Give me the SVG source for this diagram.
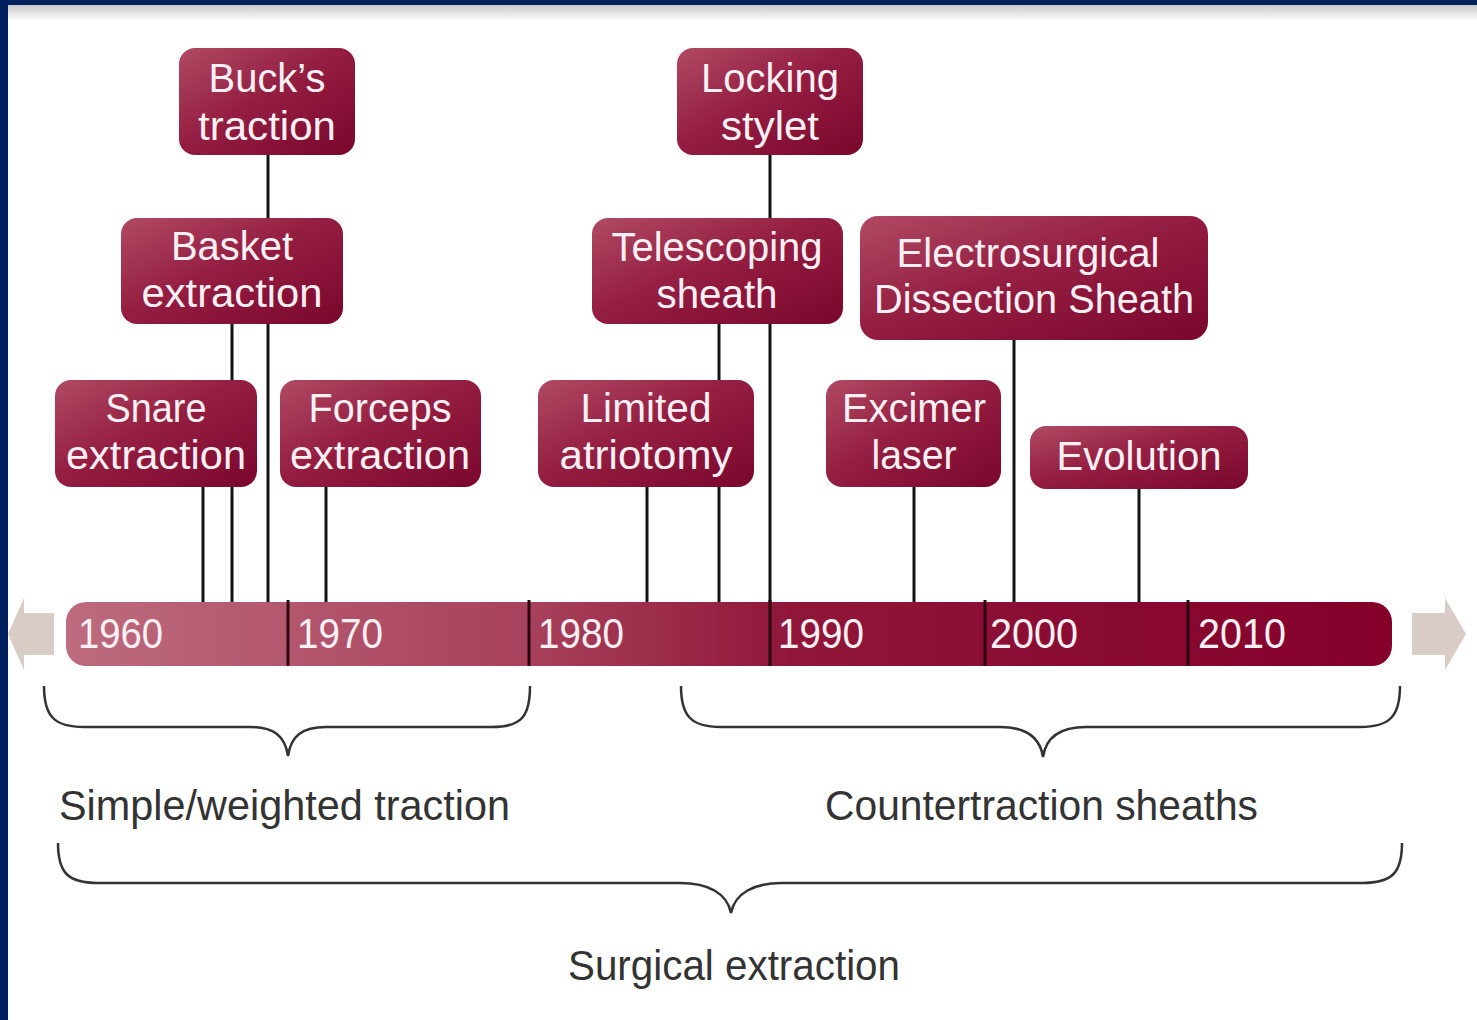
<svg xmlns="http://www.w3.org/2000/svg" width="1477" height="1020" viewBox="0 0 1477 1020">
<defs>
  <linearGradient id="nodeGrad" x1="0" y1="0" x2="1" y2="1">
    <stop offset="0" stop-color="#b04a64"/>
    <stop offset="0.45" stop-color="#951f42"/>
    <stop offset="1" stop-color="#7a062c"/>
  </linearGradient>
  <linearGradient id="barGrad" x1="0" y1="0" x2="1" y2="0">
    <stop offset="0" stop-color="#bd6b7e"/>
    <stop offset="0.35" stop-color="#a8415b"/>
    <stop offset="0.55" stop-color="#8f1639"/>
    <stop offset="1" stop-color="#84002a"/>
  </linearGradient>
  <linearGradient id="shadeGrad" x1="0" y1="0" x2="0" y2="1">
    <stop offset="0" stop-color="#c9c9c9"/>
    <stop offset="1" stop-color="#ffffff"/>
  </linearGradient>
  <style>
    .node rect { fill: url(#nodeGrad); }
    .node text { fill: #fcf0f4; font-family: "Liberation Sans", Arial, sans-serif; font-size: 40px; text-anchor: middle; }
    .year { fill: #fcf0f4; font-family: "Liberation Sans", Arial, sans-serif; font-size: 42px; }
    .conn line { stroke: #141414; stroke-width: 3; }
    .div line { stroke: #2a0010; stroke-width: 3; }
    .brace { fill: none; stroke: #333333; stroke-width: 2.5; }
    .label { fill: #333333; font-family: "Liberation Sans", Arial, sans-serif; font-size: 42px; }
    .arrow { fill: #d9ccc7; }
  </style>
</defs>

<!-- background and frame -->
<rect x="0" y="0" width="1477" height="1020" fill="#ffffff"/>
<rect x="8" y="5" width="1469" height="16" fill="url(#shadeGrad)"/>
<rect x="0" y="0" width="1477" height="5" fill="#00205e"/>
<rect x="0" y="0" width="8" height="1020" fill="#00205e"/>

<!-- timeline arrows -->
<polygon class="arrow" points="54,613 24,613 24,598 8,634 24,670 24,655 54,655"/>
<polygon class="arrow" points="1412,613 1445,613 1445,598 1466,634 1445,670 1445,655 1412,655"/>

<!-- connectors -->
<g id="connectors" class="conn">
  <line x1="268" y1="155" x2="268" y2="602"/>
  <line x1="232" y1="324" x2="232" y2="602"/>
  <line x1="203" y1="487" x2="203" y2="602"/>
  <line x1="326" y1="487" x2="326" y2="602"/>
  <line x1="770" y1="155" x2="770" y2="602"/>
  <line x1="719" y1="324" x2="719" y2="602"/>
  <line x1="647" y1="487" x2="647" y2="602"/>
  <line x1="914" y1="487" x2="914" y2="602"/>
  <line x1="1014" y1="340" x2="1014" y2="602"/>
  <line x1="1139" y1="489" x2="1139" y2="602"/>
</g>

<!-- timeline bar -->
<g id="timeline">
  <rect x="66" y="602" width="1326" height="64" rx="20" fill="url(#barGrad)"/>
  <g class="div">
    <line x1="288" y1="600" x2="288" y2="666"/>
    <line x1="529" y1="600" x2="529" y2="666"/>
    <line x1="770" y1="600" x2="770" y2="666"/>
    <line x1="985" y1="600" x2="985" y2="666"/>
    <line x1="1188" y1="600" x2="1188" y2="666"/>
  </g>
  <text class="year" x="78" y="648" textLength="85" lengthAdjust="spacingAndGlyphs">1960</text>
  <text class="year" x="297" y="648" textLength="86" lengthAdjust="spacingAndGlyphs">1970</text>
  <text class="year" x="538" y="648" textLength="86" lengthAdjust="spacingAndGlyphs">1980</text>
  <text class="year" x="778" y="648" textLength="86" lengthAdjust="spacingAndGlyphs">1990</text>
  <text class="year" x="990" y="648" textLength="88" lengthAdjust="spacingAndGlyphs">2000</text>
  <text class="year" x="1198" y="648" textLength="88" lengthAdjust="spacingAndGlyphs">2010</text>
</g>

<!-- nodes -->
<g id="bucks-traction" class="node">
  <rect x="179" y="48" width="176" height="107" rx="16"/>
  <text x="267" y="92" textLength="117" lengthAdjust="spacingAndGlyphs">Buck’s</text>
  <text x="267" y="140" textLength="138" lengthAdjust="spacingAndGlyphs">traction</text>
</g>
<g id="basket-extraction" class="node">
  <rect x="121" y="218" width="222" height="106" rx="16"/>
  <text x="232" y="260" textLength="122" lengthAdjust="spacingAndGlyphs">Basket</text>
  <text x="232" y="307" textLength="181" lengthAdjust="spacingAndGlyphs">extraction</text>
</g>
<g id="snare-extraction" class="node">
  <rect x="55" y="380" width="202" height="107" rx="16"/>
  <text x="156" y="422" textLength="101" lengthAdjust="spacingAndGlyphs">Snare</text>
  <text x="156" y="469" textLength="180" lengthAdjust="spacingAndGlyphs">extraction</text>
</g>
<g id="forceps-extraction" class="node">
  <rect x="280" y="380" width="201" height="107" rx="16"/>
  <text x="380" y="422" textLength="143" lengthAdjust="spacingAndGlyphs">Forceps</text>
  <text x="380" y="469" textLength="180" lengthAdjust="spacingAndGlyphs">extraction</text>
</g>
<g id="locking-stylet" class="node">
  <rect x="677" y="48" width="186" height="107" rx="16"/>
  <text x="770" y="92" textLength="138" lengthAdjust="spacingAndGlyphs">Locking</text>
  <text x="770" y="140" textLength="98" lengthAdjust="spacingAndGlyphs">stylet</text>
</g>
<g id="telescoping-sheath" class="node">
  <rect x="592" y="218" width="251" height="106" rx="16"/>
  <text x="717" y="261" textLength="211" lengthAdjust="spacingAndGlyphs">Telescoping</text>
  <text x="717" y="308" textLength="121" lengthAdjust="spacingAndGlyphs">sheath</text>
</g>
<g id="electrosurgical-dissection-sheath" class="node">
  <rect x="860" y="216" width="348" height="124" rx="18"/>
  <text x="1028" y="267" textLength="263" lengthAdjust="spacingAndGlyphs">Electrosurgical</text>
  <text x="1034" y="313" textLength="320" lengthAdjust="spacingAndGlyphs">Dissection Sheath</text>
</g>
<g id="limited-atriotomy" class="node">
  <rect x="538" y="380" width="216" height="107" rx="16"/>
  <text x="646" y="422" textLength="131" lengthAdjust="spacingAndGlyphs">Limited</text>
  <text x="646" y="469" textLength="173" lengthAdjust="spacingAndGlyphs">atriotomy</text>
</g>
<g id="excimer-laser" class="node">
  <rect x="826" y="380" width="175" height="107" rx="16"/>
  <text x="914" y="422" textLength="144" lengthAdjust="spacingAndGlyphs">Excimer</text>
  <text x="914" y="469" textLength="85" lengthAdjust="spacingAndGlyphs">laser</text>
</g>
<g id="evolution" class="node">
  <rect x="1030" y="426" width="218" height="63" rx="16"/>
  <text x="1139" y="470" textLength="165" lengthAdjust="spacingAndGlyphs">Evolution</text>
</g>

<!-- braces -->
<g id="braces">
  <path class="brace" d="M44,686 C44,716 54,727 84,727 L250,727 C274,727 285,736 288,756 C291,736 302,727 326,727 L492,727 C522,727 530,716 530,686"/>
  <path class="brace" d="M681,686 C681,716 691,727 721,727 L1000,727 C1026,727 1040,737 1043,757 C1046,737 1060,727 1086,727 L1360,727 C1390,727 1400,716 1400,686"/>
  <path class="brace" d="M58,843 C58,873 68,883 98,883 L680,883 C708,883 727,893 731,913 C735,893 754,883 782,883 L1362,883 C1392,883 1402,873 1402,843"/>
</g>

<!-- group labels -->
<text class="label" x="59" y="820" textLength="451" lengthAdjust="spacingAndGlyphs">Simple/weighted traction</text>
<text class="label" x="825" y="820" textLength="433" lengthAdjust="spacingAndGlyphs">Countertraction sheaths</text>
<text class="label" x="568" y="980" textLength="332" lengthAdjust="spacingAndGlyphs">Surgical extraction</text>
</svg>
